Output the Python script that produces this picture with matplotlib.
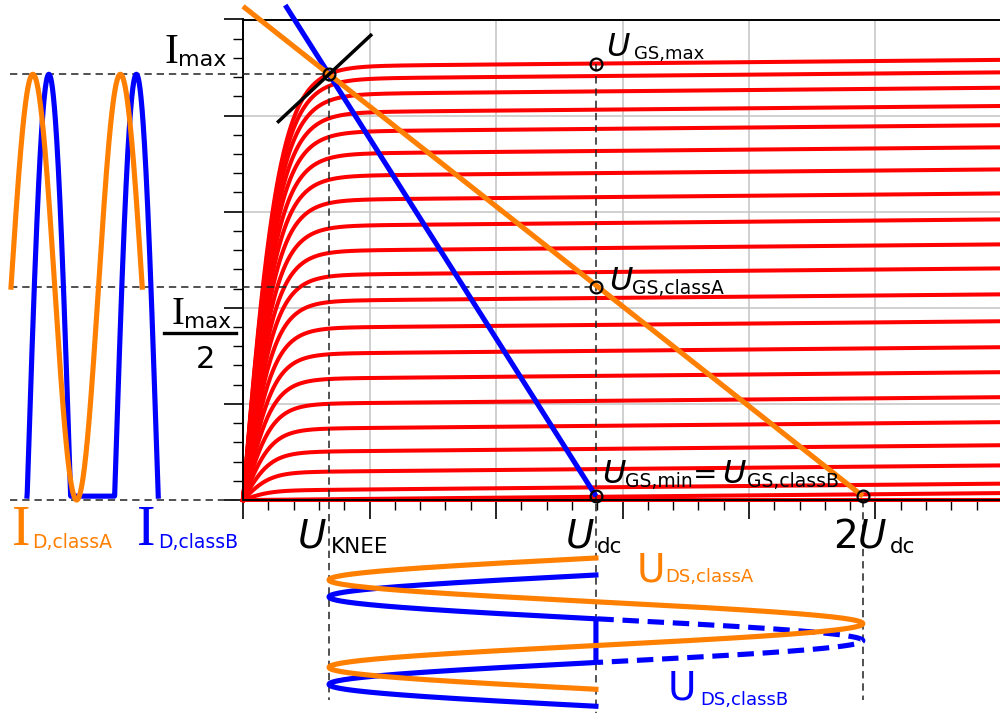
import numpy as np
import matplotlib
matplotlib.use("Agg")
import matplotlib.pyplot as plt
from matplotlib.lines import Line2D
from matplotlib.ticker import MultipleLocator

W, H = 1000, 713

# output characteristics: drain current of each U_GS curve at the right edge (U_DS = 6)
id_levels = [4.58, 4.45, 4.29, 4.10, 3.90, 3.67, 3.44, 3.19, 2.92, 2.66, 2.41,
             2.14, 1.86, 1.59, 1.33, 1.07, 0.81, 0.57, 0.36, 0.17, 0.03, 0.0]

# operating points of the two amplifier classes
u_knee = 0.68
u_dc = 2.79
i_max = 4.43
i_min = 0.04
u_top = 2 * u_dc - u_knee

# slope of the knee tangent
knee_slope = 1.23

RED = "#ff0000"
ORANGE = "#ff7f00"
BLUE = "#0000ff"

# pixel frame of the plot area
X0, Y0, XPU, YPU = 243, 500, 126.5, 96.1


def dx(px):
    return (px - X0) / XPU


def dy(py):
    return (Y0 - py) / YPU


def drain_current(u, level, g=0.012):
    isat = max(level - 6 * g, 0) if level > 0 else 0.0
    uk = 0.21 + 0.018 * isat
    return (isat + g * u * (level > 0)) * np.tanh(u / uk)


fig = plt.figure(figsize=(W / 100, H / 100), dpi=100)
ax = fig.add_axes([X0 / W, 1 - Y0 / H, (W - X0) / W, 480.5 / H])
ax.set_xlim(0, (W - X0) / XPU)
ax.set_ylim(0, 480.5 / YPU)

ax.spines["right"].set_visible(False)
for side in ["top", "left", "bottom"]:
    ax.spines[side].set_linewidth(1.4)

ax.xaxis.set_major_locator(MultipleLocator(1))
ax.xaxis.set_minor_locator(MultipleLocator(0.2))
ax.yaxis.set_major_locator(MultipleLocator(1))
ax.yaxis.set_minor_locator(MultipleLocator(0.2))
ax.grid(which="major", color="#c4c4c4", lw=1.1)
ax.set_axisbelow(True)
ax.tick_params(which="both", direction="out", labelbottom=False, labelleft=False, color="k")
ax.tick_params(which="major", length=14, width=1.2)
ax.tick_params(which="minor", length=7.5, width=1.0)

# family of output curves
u = np.linspace(0, ax.get_xlim()[1], 800)
for lev in id_levels:
    ax.plot(u, drain_current(u, lev), color=RED, lw=2.9, zorder=2, clip_on=False)

i_gs_max = drain_current(np.array([u_dc]), id_levels[0])[0]

# dashed guide lines
dash = dict(color="#222222", lw=1.1, ls=(0, (4.8, 3.2)), clip_on=False, zorder=3)
ax.plot([dx(10), u_knee], [i_max, i_max], **dash)
ax.plot([dx(10), u_dc], [i_max / 2, i_max / 2], **dash)
ax.plot([dx(10), 0], [0, 0], **dash)
ax.plot([u_knee, u_knee], [i_max, dy(700)], **dash)
ax.plot([u_dc, u_dc], [i_gs_max, dy(713)], **dash)
ax.plot([u_top, u_top], [0, dy(700)], **dash)

# load lines
k_a = (i_max - i_min) / (u_top - u_knee)
ax.plot([0, u_top], [i_max + k_a * u_knee, i_min], color=ORANGE, lw=3.7,
        zorder=5, clip_on=False, solid_capstyle="butt")
k_b = (i_max - i_min) / (u_dc - u_knee)
y_b = 5.15
ax.plot([u_knee - (y_b - i_max) / k_b, u_dc], [y_b, i_min], color=BLUE, lw=3.7,
        zorder=4, clip_on=False, solid_capstyle="butt")

# knee tangent
ut = np.array([u_knee - 0.41, u_knee + 0.34])
ax.plot(ut, i_max + knee_slope * (ut - u_knee), color="k", lw=2.5, zorder=6,
        clip_on=False, solid_capstyle="butt")

# operating point markers
ax.plot([u_knee, u_dc, u_dc, u_dc, u_top],
        [i_max, i_gs_max, i_max / 2, i_min, i_min],
        "o", ms=8.5, mfc="none", mec="k", mew=1.6, zorder=7, clip_on=False)

# drain current waveforms (time runs to the right)
t = np.linspace(0, 1.5, 600)
s = np.sin(2 * np.pi * t)
per_x = 87.5 / XPU
ax.plot(dx(11) + t * per_x, i_max / 2 * (1 + s), color=ORANGE, lw=3.7,
        clip_on=False, zorder=5)
ax.plot(dx(27) + t * per_x, np.maximum(i_max * s, i_min), color=BLUE, lw=3.7,
        clip_on=False, zorder=4)

# drain voltage waveforms (time runs downward)
per_y = 87.5 / YPU
amp = u_dc - u_knee
ax.plot(u_dc - amp * s, dy(558) - t * per_y, color=ORANGE, lw=3.7,
        clip_on=False, zorder=5)
yb = dy(575) - t * per_y
ax.plot(u_dc - amp * np.maximum(s, 0), yb, color=BLUE, lw=3.7,
        clip_on=False, zorder=4)
neg = s <= 0
ax.plot(np.where(neg, u_dc - amp * s, np.nan), yb, color=BLUE, lw=3.7,
        ls=(0, (3.2, 1.7)), clip_on=False, zorder=4)


# labels (pixel positions, baseline aligned)
def put(x, y, txt, size, color="k", **kw):
    kw.setdefault("family", "DejaVu Sans")
    fig.text(x / W, 1 - y / H, txt, fontsize=size, color=color,
             ha=kw.pop("ha", "left"), va="baseline", **kw)


SERIF = "Liberation Serif"

put(164, 63, "I", 30, family=SERIF)
put(178, 66, "max", 16)

put(172, 324, "I", 28, family=SERIF)
put(184, 328, "max", 15.5)
fig.add_artist(Line2D([164 / W, 236 / W], [1 - 333 / H] * 2, color="k", lw=2.4))
put(205.5, 368, "2", 22, ha="center")

put(12, 545, "I", 40, ORANGE, family=SERIF)
put(32, 548, "D,classA", 13.5, ORANGE)
put(137, 545, "I", 40, BLUE, family=SERIF)
put(158, 548, "D,classB", 13.5, BLUE)

put(298, 548, "U", 28, style="italic")
put(331, 553, "KNEE", 15.5)
put(566, 548, "U", 28, style="italic")
put(597, 553, "dc", 15.5)
put(833, 548, "2", 28)
put(858, 548, "U", 28, style="italic")
put(890, 553, "dc", 15.5)

put(606, 56, "U", 23, style="italic")
put(634, 59, "GS,max", 13)
put(609, 290, "U", 23, style="italic")
put(632, 294, "GS,classA", 13.5)
put(602, 483, "U", 23, style="italic")
put(625, 487, "GS,min", 13.5)
put(693, 483, "=", 21)
put(722, 483, "U", 23, style="italic")
put(747, 487, "GS,classB", 13.5)

put(637, 582, "U", 28, ORANGE)
put(665, 582, "DS,classA", 13, ORANGE)
put(668, 700, "U", 28, BLUE)
put(700, 705, "DS,classB", 13, BLUE)

fig.savefig("out.png", dpi=100)
